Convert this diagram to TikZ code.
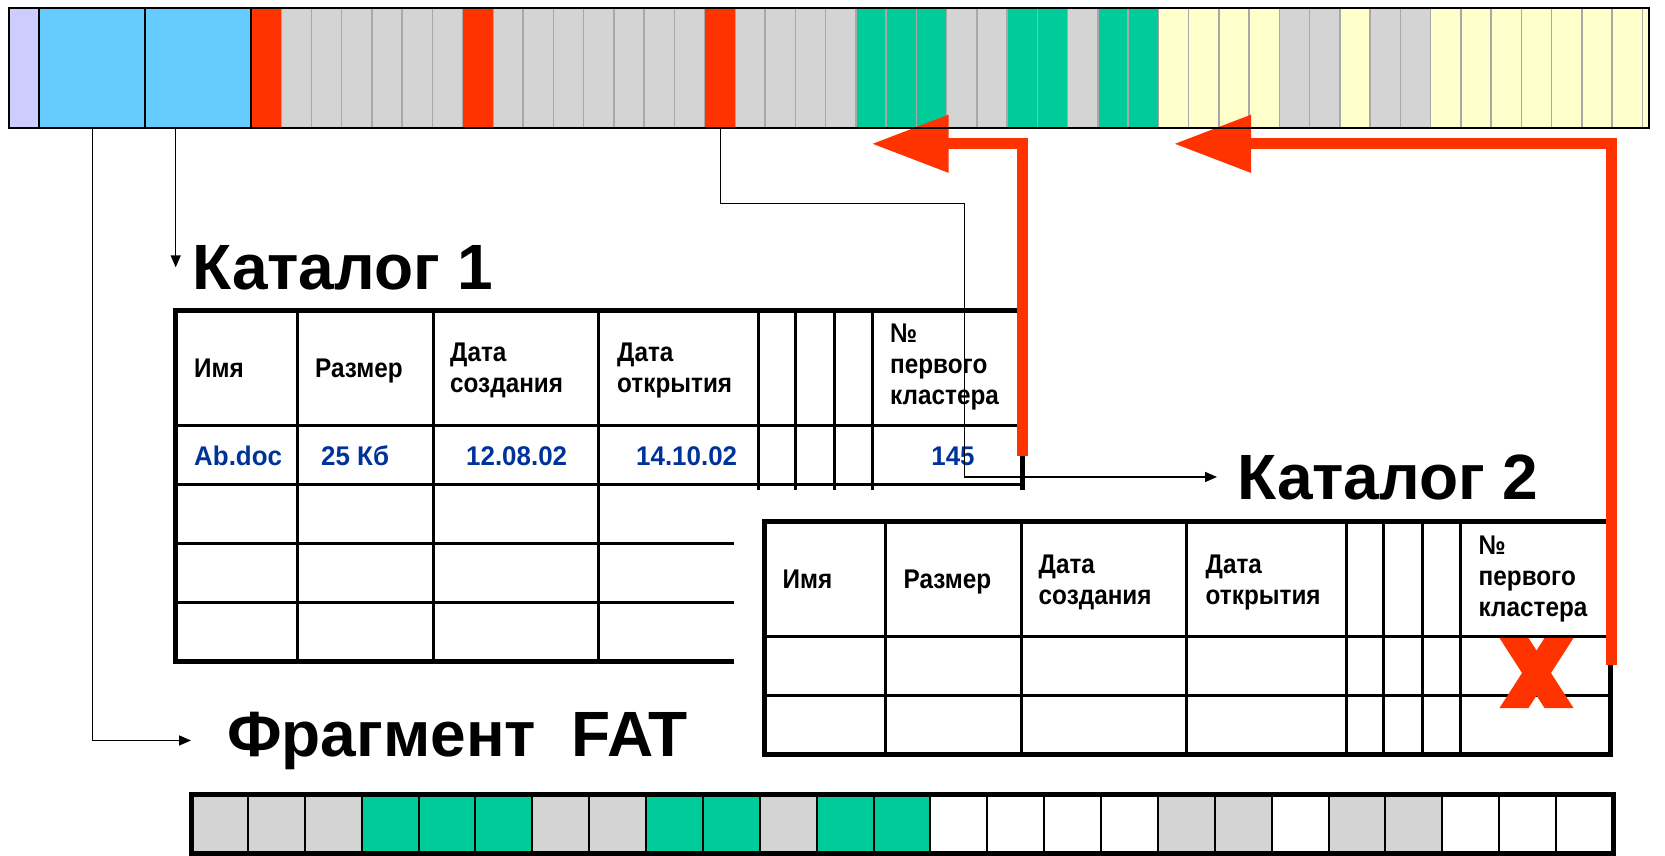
\documentclass[tikz,border=0pt]{standalone}
\usepackage{fontspec}
\setmainfont{Liberation Sans}
\newfontfamily\hdrfont[FakeStretch=0.9]{Liberation Sans}
\newfontfamily\datfont[FakeStretch=0.96]{Liberation Sans}
\usetikzlibrary{arrows.meta}
\definecolor{bootlav}{HTML}{CCCCFF}
\definecolor{dirblue}{HTML}{66CCFF}
\definecolor{dirred}{HTML}{FF3300}
\definecolor{cellgray}{HTML}{D4D4D4}
\definecolor{cellgreen}{HTML}{00CC99}
\definecolor{cellyellow}{HTML}{FFFFCC}
\definecolor{sepgray}{HTML}{A8A8A8}
\definecolor{datblue}{HTML}{003399}

\newcommand{\dirtable}[2]{%
  \draw[line width=3pt] (0,115)--(846.5,115);
  \foreach \k in {2,...,#2} \draw[line width=3pt] (0,{56+59*\k})--(846.5,{56+59*\k});
  \foreach \x in {121.5,257.5,422.5,582.5,619.5,658.5,696.5}
    \draw[line width=3pt] (\x,0)--(\x,{115+59*#2});
  \draw[line width=5pt] (0,0) rectangle (846.5,{115+59*#2});
  \node[hdr,anchor=base west] (#1-name) at (18.5,67) {Имя};
  \node[hdr,anchor=base west] (#1-size) at (139.5,67) {Размер};
  \node[hdr,anchor=north west] (#1-made) at (274.5,32.7) {Дата\\создания};
  \node[hdr,anchor=north west] (#1-open) at (441.5,32.7) {Дата\\открытия};
  \node[hdr,anchor=north west] (#1-clus) at (714.5,13.7) {№\\первого\\кластера};
}

\begin{document}
\begin{tikzpicture}[x=1pt,y=-1pt,>={Triangle[length=12pt,width=10pt]},
  lbl/.style={anchor=base west,inner sep=0pt,font=\bfseries\fontsize{64}{72}\selectfont},
  wire/.style={line width=1.5pt,->},
  hot/.style={dirred,line width=11pt,-{Triangle[length=77pt,width=55pt]}},
  hdr/.style={inner sep=0pt,align=left,font=\hdrfont\bfseries\fontsize{27}{31}\selectfont},
  dat/.style={inner sep=0pt,anchor=base west,text=datblue,font=\datfont\bfseries\fontsize{27}{31}\selectfont}]
\useasboundingbox (0,0) rectangle (1665,856);

\begin{scope}
\clip (9,8.3) rectangle (1649.3,127.8);
\foreach \k in {0,...,46} \fill[cellgray] ({250.8+30.25*\k},8.3) rectangle +(30.25,119.5);
\foreach \k in {20,21,22,25,26,28,29} \fill[cellgreen] ({250.8+30.25*\k},8.3) rectangle +(30.25,119.5);
\foreach \k in {30,31,32,33,36,39,40,...,46} \fill[cellyellow] ({250.8+30.25*\k},8.3) rectangle +(30.25,119.5);
\foreach \k in {1,...,46} \draw[sepgray,line width=1.5pt] ({250.8+30.25*\k},8.3)--++(0,119.5);
\foreach \k in {0,7,15} \fill[dirred] ({250.8+30.25*\k},8.3) rectangle +(30.25,119.5);
\end{scope}
\fill[bootlav] (9,8.3) rectangle (39.4,127.8);
\fill[dirblue] (39.4,8.3) rectangle (250.8,127.8);
\draw[line width=2pt] (39.4,8.3)--(39.4,127.8) (145,8.3)--(145,127.8) (250.8,8.3)--(250.8,127.8);

\begin{scope}[shift={(175.5,310)}]
\dirtable{ta}{4}
\node[dat] (ta-v1) at (18.5,155) {Ab.doc};
\node[dat] (ta-v2) at (145.5,155) {25 Кб};
\node[dat] (ta-v3) at (290.5,155) {12.08.02};
\node[dat] (ta-v4) at (460.5,155) {14.10.02};
\node[dat,anchor=base] (ta-v5) at (777.5,155) {145};
\end{scope}

\fill[white] (734,490) rectangle (1640,775);
\begin{scope}[shift={(764,521.7)}]
\dirtable{tb}{2}
\end{scope}

\node[lbl] (cat1) at (192,289) {Каталог 1};
\node[lbl] (cat2) at (1237,499) {Каталог 2};
\node[lbl] (fat) at (227,756) {Фрагмент\ \ FAT};

\coordinate (dirA) at (92.3,127.8);
\coordinate (dirB) at (175.7,127.8);
\coordinate (dirC) at (720.7,127.8);
\coordinate (bend) at (964.3,203.3);
\draw[wire,shorten >=36pt] (dirA) |- (fat.west);
\draw[wire] (dirB) -- (dirB |- cat1.west);
\draw[wire,shorten >=20pt] (dirC) |- (bend) |- (cat2.west);

\coordinate (redA) at (1022.5,456);
\coordinate (tipA) at (871.7,143.8);
\coordinate (redB) at (1611,665);
\coordinate (tipB) at (1174,143.8);
\draw[hot] (redA) |- (tipA);
\draw[hot] (redB) |- (tipB);
\fill[dirred] (1499.5,638) -- (1528.5,638) -- (1573.5,708) -- (1544.5,708) -- cycle;
\fill[dirred] (1573.5,638) -- (1544.5,638) -- (1499.5,708) -- (1528.5,708) -- cycle;

\draw[line width=2pt] (9,8.3) rectangle (1649.3,127.8);

\foreach \c [count=\k from 0] in {cellgray,cellgray,cellgray,cellgreen,cellgreen,cellgreen,cellgray,cellgray,
  cellgreen,cellgreen,cellgray,cellgreen,cellgreen,white,white,white,white,cellgray,cellgray,white,
  cellgray,cellgray,white,white,white}
  \fill[\c] ({191+56.88*\k},794) rectangle +(56.88,59);
\foreach \k in {1,...,24} \draw[line width=2pt] ({191+56.88*\k},794)--++(0,59);
\draw[line width=5pt] (191,794) rectangle (1613,853);
\end{tikzpicture}
\end{document}
